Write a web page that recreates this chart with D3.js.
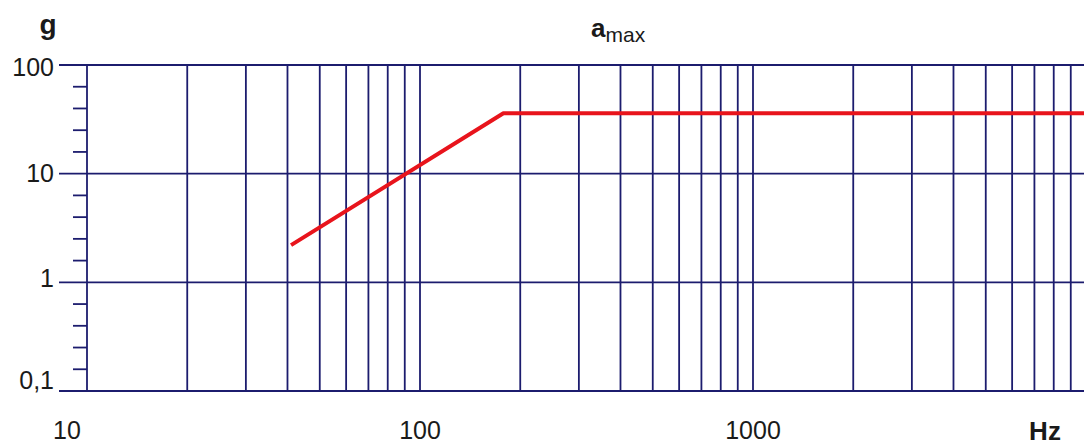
<!DOCTYPE html>
<html><head><meta charset="utf-8">
<script src="https://cdn.jsdelivr.net/npm/d3@7"></script>
<style>
html,body{margin:0;padding:0;background:#fff;}
svg{display:block;}
text{font-family:"Liberation Sans",Arial,sans-serif;fill:#1a1a1a;}
</style></head>
<body>
<svg id="chart" width="1084" height="445"></svg>
<script>
// data
const freqHz = [41, 178, 10000];
const accelG = [2.2, 36, 36];
const yTickValues = [100, 10, 1, 0.1];
const yTickLabels = ["100", "10", "1", "0,1"];
const xTickValues = [10, 100, 1000];
const xTickLabels = ["10", "100", "1000"];
const yUnit = "g";
const xUnit = "Hz";
const titleMain = "a";
const titleSub = "max";

const svg = d3.select("#chart");
const x = d3.scaleLog().domain([10, 10000]).range([87, 1086]);
const y = d3.scaleLog().domain([0.1, 100]).range([391, 65]);
const gridColor = "#1c1c6e";

// vertical grid lines
const vTicks = x.ticks().filter(v => v > 10);
svg.append("g").selectAll("line").data(vTicks).join("line")
  .attr("x1", d => x(d)).attr("x2", d => x(d))
  .attr("y1", y(100)).attr("y2", y(0.1))
  .attr("stroke", gridColor).attr("stroke-width", 1.8);

// horizontal grid lines (major decades) with long left ticks
svg.append("g").selectAll("line").data(yTickValues).join("line")
  .attr("x1", 59).attr("x2", 1084)
  .attr("y1", d => y(d)).attr("y2", d => y(d))
  .attr("stroke", gridColor).attr("stroke-width", 1.8);

// minor ticks: five equal log steps per decade
const minor = [];
for (let e = -1; e < 2; e++) for (let k = 1; k < 5; k++) minor.push(Math.pow(10, e + k / 5));
svg.append("g").selectAll("line").data(minor).join("line")
  .attr("x1", 73).attr("x2", 87)
  .attr("y1", d => y(d)).attr("y2", d => y(d))
  .attr("stroke", gridColor).attr("stroke-width", 1.8);

// left axis line
svg.append("line").attr("x1", x(10)).attr("x2", x(10))
  .attr("y1", y(100)).attr("y2", y(0.1))
  .attr("stroke", gridColor).attr("stroke-width", 1.8);

// y labels
const yDy = {100: 2, 10: 0, 1: -4, 0.1: -11};
svg.append("g").selectAll("text").data(yTickValues).join("text")
  .attr("x", 54).attr("y", d => y(d) + yDy[d])
  .attr("dy", "0.35em").attr("text-anchor", "end")
  .attr("font-size", 25)
  .text((d, i) => yTickLabels[i]);

// x labels
svg.append("g").selectAll("text").data(xTickValues).join("text")
  .attr("x", (d, i) => x(d) - (i === 0 ? 20 : 0)).attr("y", 439)
  .attr("text-anchor", "middle").attr("font-size", 25)
  .text((d, i) => xTickLabels[i]);

// units
svg.append("text").attr("x", 48).attr("y", 34).attr("text-anchor", "middle")
  .attr("font-size", 28).attr("font-weight", "bold").text(yUnit);
svg.append("text").attr("x", 1045).attr("y", 440).attr("text-anchor", "middle")
  .attr("font-size", 26).attr("font-weight", "bold").text(xUnit);

// title
const t = svg.append("text").attr("x", 591).attr("y", 37);
t.append("tspan").attr("font-size", 26).attr("font-weight", "bold").text(titleMain);
t.append("tspan").attr("font-size", 21).attr("dy", 5).text(titleSub);

// data line
const pts = freqHz.map((f, i) => [f, accelG[i]]);
svg.append("path").datum(pts)
  .attr("d", d3.line().x(d => x(d[0])).y(d => y(d[1])))
  .attr("fill", "none").attr("stroke", "#e8141c").attr("stroke-width", 4)
  .attr("stroke-linejoin", "round");
</script>
</body></html>
